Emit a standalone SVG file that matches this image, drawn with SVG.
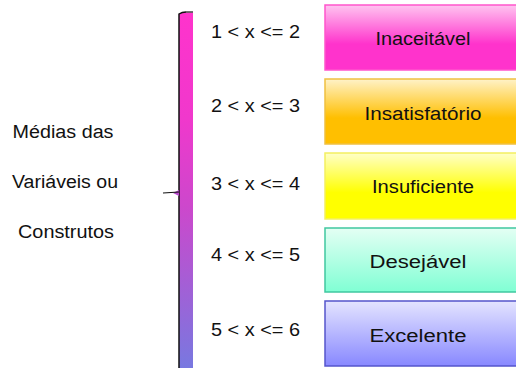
<svg xmlns="http://www.w3.org/2000/svg" width="516" height="368" viewBox="0 0 516 368">
<style>
text{font-family:"Liberation Sans",Arial,sans-serif;font-size:18px;fill:#111}
.lbl{text-anchor:middle}
.box{stroke-width:1.5}
</style>
<defs>
<linearGradient id="gBr" x1="0" y1="0" x2="0" y2="1">
<stop offset="0" stop-color="#ff33cc"/><stop offset="0.3" stop-color="#f038cc"/><stop offset="0.55" stop-color="#cc48cc"/><stop offset="1" stop-color="#7878e0"/>
</linearGradient>
<linearGradient id="g1" x1="0" y1="0" x2="0" y2="1"><stop offset="0" stop-color="#ffc4f0"/><stop offset="0.6" stop-color="#ff33cc"/><stop offset="1" stop-color="#ff33cc"/></linearGradient>
<linearGradient id="g2" x1="0" y1="0" x2="0" y2="1"><stop offset="0" stop-color="#fff2c8"/><stop offset="0.6" stop-color="#ffbf00"/><stop offset="1" stop-color="#ffbf00"/></linearGradient>
<linearGradient id="g3" x1="0" y1="0" x2="0" y2="1"><stop offset="0" stop-color="#ffffc8"/><stop offset="0.6" stop-color="#ffff00"/><stop offset="1" stop-color="#ffff00"/></linearGradient>
<linearGradient id="g4" x1="0" y1="0" x2="0" y2="1"><stop offset="0" stop-color="#e4fff4"/><stop offset="1" stop-color="#80ffd4"/></linearGradient>
<linearGradient id="g5" x1="0" y1="0" x2="0" y2="1"><stop offset="0" stop-color="#e4e4ff"/><stop offset="1" stop-color="#8888ff"/></linearGradient>
</defs>

<g id="left-label">
<text class="lbl" x="63" y="138" textLength="101" lengthAdjust="spacingAndGlyphs">Médias das</text>
<text class="lbl" x="65" y="188" textLength="106" lengthAdjust="spacingAndGlyphs">Variáveis ou</text>
<text class="lbl" x="66" y="238" textLength="96" lengthAdjust="spacingAndGlyphs">Construtos</text>
</g>

<g id="bracket">
<path d="M179,14 Q182,12 186,12 L193,12 L193,368 L179,368 Z" fill="url(#gBr)"/>
<path d="M179,368 L179,14 Q182,12 186,12 L193,12" fill="none" stroke="#111" stroke-width="1.5"/>
<path d="M193,12 L186,12" stroke="#999" stroke-width="1"/>
<path d="M179,190 L173,193 L179,196 Z" fill="#b848cc"/>
<path d="M163,193 L179,192" stroke="#111" stroke-width="1.2"/>
</g>

<g id="ranges">
<text x="211" y="38" textLength="89" lengthAdjust="spacingAndGlyphs">1 &lt; x &lt;= 2</text>
<text x="211" y="112" textLength="89" lengthAdjust="spacingAndGlyphs">2 &lt; x &lt;= 3</text>
<text x="211" y="190" textLength="89" lengthAdjust="spacingAndGlyphs">3 &lt; x &lt;= 4</text>
<text x="211" y="261" textLength="89" lengthAdjust="spacingAndGlyphs">4 &lt; x &lt;= 5</text>
<text x="211" y="336" textLength="89" lengthAdjust="spacingAndGlyphs">5 &lt; x &lt;= 6</text>
</g>

<g id="n1"><rect class="box" x="325" y="5" width="195" height="65" fill="url(#g1)" stroke="#ff55cc"/><text class="lbl" x="423" y="45" textLength="95" lengthAdjust="spacingAndGlyphs">Inaceitável</text></g>
<g id="n2"><rect class="box" x="325" y="79" width="195" height="65" fill="url(#g2)" stroke="#f0c040"/><text class="lbl" x="423" y="120" textLength="117" lengthAdjust="spacingAndGlyphs">Insatisfatório</text></g>
<g id="n3"><rect class="box" x="325" y="153" width="195" height="66" fill="url(#g3)" stroke="#f4f060"/><text class="lbl" x="423" y="193" textLength="102" lengthAdjust="spacingAndGlyphs">Insuficiente</text></g>
<g id="n4"><rect class="box" x="325" y="228" width="195" height="64" fill="url(#g4)" stroke="#40c8a0"/><text class="lbl" x="418" y="268" textLength="97" lengthAdjust="spacingAndGlyphs">Desejável</text></g>
<g id="n5"><rect class="box" x="325" y="301" width="195" height="65" fill="url(#g5)" stroke="#5555cc"/><text class="lbl" x="418" y="342" textLength="97" lengthAdjust="spacingAndGlyphs">Excelente</text></g>
</svg>
